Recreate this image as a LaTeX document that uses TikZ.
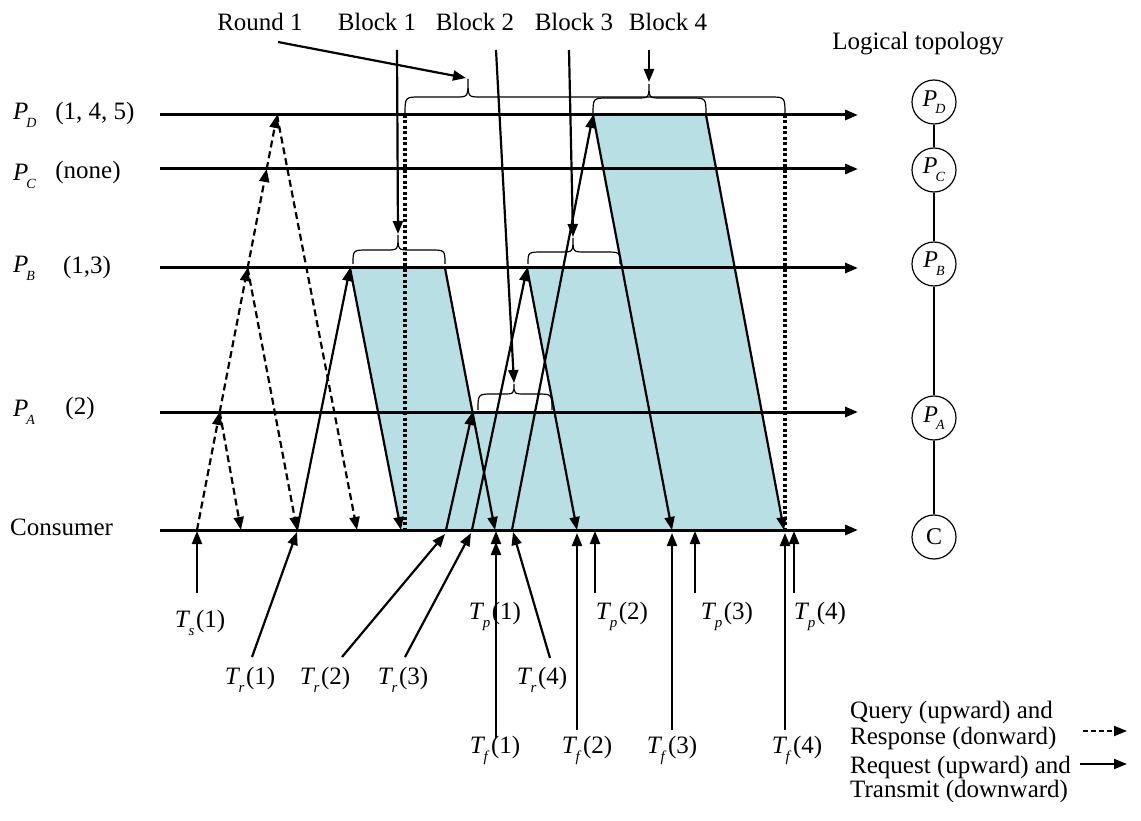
\documentclass[tikz,border=0pt]{standalone}
\usepackage{fontspec}
\setmainfont{Liberation Serif}
\usetikzlibrary{arrows.meta}
\definecolor{blockfill}{RGB}{184,224,228}
\newcommand{\tlab}[2]{\textit{T}\kern-0.06em\raisebox{-0.32em}{\fontsize{15}{15}\selectfont\textit{#1}}\kern0.06em(#2)}
\newcommand{\plab}[1]{\textit{P}\kern-0.08em\raisebox{-0.32em}{\fontsize{14}{14}\selectfont\textit{#1}}}
\newcommand{\brc}[6]{\draw[bracestyle] (#1,#4) .. controls (#1,#5) .. ({#1+15},#5) -- ({#3-12},#5) .. controls (#3,#5) .. (#3,#6) .. controls (#3,#5) .. ({#3+12},#5) -- ({#2-15},#5) .. controls (#2,#5) .. (#2,#4);}
\begin{document}
\begin{tikzpicture}[x=1pt,y=-1pt,
  every node/.style={font=\fontsize{25}{24}\selectfont, inner sep=0pt},
  tipstyle/.style={-{Triangle[length=13pt,width=10pt]}},
  timeline/.style={line width=3pt, tipstyle},
  msg/.style={line width=2.2pt, tipstyle},
  qry/.style={line width=2.2pt, dash pattern=on 7pt off 4pt, tipstyle},
  rnd/.style={line width=4pt, dash pattern=on 3pt off 2.5pt},
  bracestyle/.style={line width=1.2pt},
  topo/.style={circle, draw, line width=1.2pt, minimum size=44pt, inner sep=0pt, font=\fontsize{24}{24}\selectfont},
  link/.style={line width=1.2pt}
]
\useasboundingbox (0,0) rectangle (1141,821);

% shaded blocks
\fill[blockfill] (350,268) -- (445,268) -- (495,530) -- (401,530) -- cycle;
\fill[blockfill] (472.5,412) -- (554.5,412) -- (577,530) -- (495,530) -- cycle;
\fill[blockfill] (527,268) -- (622,268) -- (672,530) -- (577,530) -- cycle;
\fill[blockfill] (593,115) -- (706,115) -- (784,530) -- (672,530) -- cycle;

% timelines
\coordinate (dL) at (160,115); \coordinate (dR) at (858,115);
\coordinate (cL) at (160,169); \coordinate (cR) at (858,169);
\coordinate (bL) at (160,268); \coordinate (bR) at (858,268);
\coordinate (aL) at (160,412); \coordinate (aR) at (858,412);
\coordinate (oL) at (160,530); \coordinate (oR) at (858,530);
\draw[timeline] (dL) -- (dR);
\draw[timeline] (cL) -- (cR);
\draw[timeline] (bL) -- (bR);
\draw[timeline] (aL) -- (aR);
\draw[timeline] (oL) -- (oR);

% round boundaries
\coordinate (r1t) at (405,115); \coordinate (r1b) at (405,530);
\coordinate (r2t) at (785,115); \coordinate (r2b) at (785,530);
\draw[rnd] (r1t) -- (r1b);
\draw[rnd] (r2t) -- (r2b);

% query / response
\coordinate (q0) at (197,530);
\coordinate (qA) at (219.7,412);
\coordinate (qB) at (247.6,268);
\coordinate (qC) at (266.7,169);
\coordinate (qD) at (277,115);
\coordinate (sA) at (241,530);
\coordinate (sB) at (297,530);
\coordinate (sD) at (357,530);
\draw[qry] (q0) -- (qA);
\draw[qry] (qA) -- (qB);
\draw[qry] (qB) -- (qC);
\draw[qry] (qC) -- (qD);
\draw[qry] (qA) -- (sA);
\draw[qry] (qB) -- (sB);
\draw[qry] (qD) -- (sD);

% requests
\coordinate (b1l) at (350,268); \coordinate (b1r) at (445,268);
\coordinate (b2l) at (472.5,412);
\coordinate (b3l) at (527,268);
\coordinate (b4l) at (593,115); \coordinate (b4r) at (706,115);
\coordinate (u2) at (446,530); \coordinate (u3) at (472,530); \coordinate (u4) at (512,530);
\draw[msg] (sB) -- (b1l);
\draw[msg] (u2) -- (b2l);
\draw[msg] (u3) -- (b3l);
\draw[msg] (u4) -- (b4l);

% transmissions
\coordinate (e1) at (401,530); \coordinate (e2) at (495,530);
\coordinate (e3) at (577,530); \coordinate (e4) at (672,530); \coordinate (e5) at (784,530);
\draw[msg] (b1l) -- (e1);
\draw[msg] (b1r) -- (e2);
\draw[msg] (b3l) -- (e3);
\draw[msg] (b4l) -- (e4);
\draw[msg] (b4r) -- (e5);

% braces
\brc{405}{785}{468}{115}{97}{79}
\brc{593}{706}{649}{115}{98}{84}
\brc{353}{445}{398}{264}{250}{235}
\brc{528}{620}{573}{264}{252}{238}
\brc{478}{552}{514}{410}{394}{384}

% top labels
\node (round1) at (260,22) {Round 1};
\node (blk1) at (377,22) {Block 1};
\node (blk2) at (475,22) {Block 2};
\node (blk3) at (574,22) {Block 3};
\node (blk4) at (668,22) {Block 4};
\coordinate (round1s) at (278,42); \coordinate (round1e) at (466,78);
\coordinate (blk1s) at (397,50); \coordinate (blk1e) at (398,234);
\coordinate (blk2s) at (496,50); \coordinate (blk2e) at (514,383);
\coordinate (blk3s) at (569,50); \coordinate (blk3e) at (573,237);
\coordinate (blk4s) at (649,50); \coordinate (blk4e) at (649,82);
\draw[msg] (round1s) -- (round1e);
\draw[msg] (blk1s) -- (blk1e);
\draw[msg] (blk2s) -- (blk2e);
\draw[msg] (blk3s) -- (blk3e);
\draw[msg] (blk4s) -- (blk4e);

% left labels
\node[anchor=west] (pD) at (13,115) {\plab{D}};
\node (pDn) at (95,113) {(1, 4, 5)};
\node[anchor=west] (pC) at (13,176) {\plab{C}};
\node (pCn) at (88,172) {(none)};
\node[anchor=west] (pB) at (13,268) {\plab{B}};
\node (pBn) at (87,267) {(1,3)};
\node[anchor=west] (pA) at (13,412) {\plab{A}};
\node (pAn) at (80,408) {(2)};
\node[anchor=west] (cons) at (10,527) {Consumer};

% bottom labels
\node (lTs) at (200,623) {\tlab{s}{1}};
\node (lTr1) at (250,680) {\tlab{r}{1}};
\node (lTr2) at (325,680) {\tlab{r}{2}};
\node (lTr3) at (403,680) {\tlab{r}{3}};
\node (lTr4) at (542,680) {\tlab{r}{4}};
\node (lTp1) at (495,616) {\tlab{p}{1}};
\node (lTp2) at (622,616) {\tlab{p}{2}};
\node (lTp3) at (727,616) {\tlab{p}{3}};
\node (lTp4) at (820,616) {\tlab{p}{4}};
\node (lTf1) at (495,750) {\tlab{f}{1}};
\node (lTf2) at (587,750) {\tlab{f}{2}};
\node (lTf3) at (672,750) {\tlab{f}{3}};
\node (lTf4) at (797,750) {\tlab{f}{4}};

% bottom arrows
\coordinate (ts0) at (197,593); \coordinate (ts1) at (197,531);
\coordinate (tr10) at (252,657); \coordinate (tr11) at (297,532);
\coordinate (tr20) at (342,657); \coordinate (tr21) at (445,534);
\coordinate (tr30) at (405,657); \coordinate (tr31) at (471,533);
\coordinate (tr40) at (550,658); \coordinate (tr41) at (513,532);
\coordinate (tf10) at (496,738); \coordinate (tf11) at (496,531);
\coordinate (tp10) at (496,600); \coordinate (tp11) at (496,542);
\coordinate (tf20) at (577,730); \coordinate (tf21) at (577,533);
\coordinate (tp20) at (595,593); \coordinate (tp21) at (595,531);
\coordinate (tf30) at (672,730); \coordinate (tf31) at (672,533);
\coordinate (tp30) at (695,593); \coordinate (tp31) at (695,531);
\coordinate (tf40) at (785,730); \coordinate (tf41) at (785,533);
\coordinate (tp40) at (794,593); \coordinate (tp41) at (794,531);
\draw[msg] (ts0) -- (ts1);
\draw[msg] (tr10) -- (tr11);
\draw[msg] (tr20) -- (tr21);
\draw[msg] (tr30) -- (tr31);
\draw[msg] (tr40) -- (tr41);
\draw[msg] (tf10) -- (tf11);
\draw[msg] (tp10) -- (tp11);
\draw[msg] (tf20) -- (tf21);
\draw[msg] (tp20) -- (tp21);
\draw[msg] (tf30) -- (tf31);
\draw[msg] (tp30) -- (tp31);
\draw[msg] (tf40) -- (tf41);
\draw[msg] (tp40) -- (tp41);

% logical topology
\node (topt) at (918,44) {Logical topology};
\node[topo] (tD) at (934,102) {\plab{D}};
\node[topo] (tC) at (934,170) {\plab{C}};
\node[topo] (tB) at (934,264) {\plab{B}};
\node[topo] (tA) at (934,418) {\plab{A}};
\node[topo] (tO) at (934,537) {C};
\draw[link] (tD) -- (tC);
\draw[link] (tC) -- (tB);
\draw[link] (tB) -- (tA);
\draw[link] (tA) -- (tO);

% legend
\node[anchor=west] (lg1) at (850,713) {Query (upward) and};
\node[anchor=west] (lg2) at (850,738) {Response (donward)};
\node[anchor=west] (lg3) at (850,767) {Request (upward) and};
\node[anchor=west] (lg4) at (850,791) {Transmit (downward)};
\coordinate (lq0) at (1083,731); \coordinate (lq1) at (1127,731);
\coordinate (lr0) at (1080,764); \coordinate (lr1) at (1127,764);
\draw[line width=2pt, dash pattern=on 5pt off 3pt, tipstyle] (lq0) -- (lq1);
\draw[line width=2pt, tipstyle] (lr0) -- (lr1);
\end{tikzpicture}
\end{document}
